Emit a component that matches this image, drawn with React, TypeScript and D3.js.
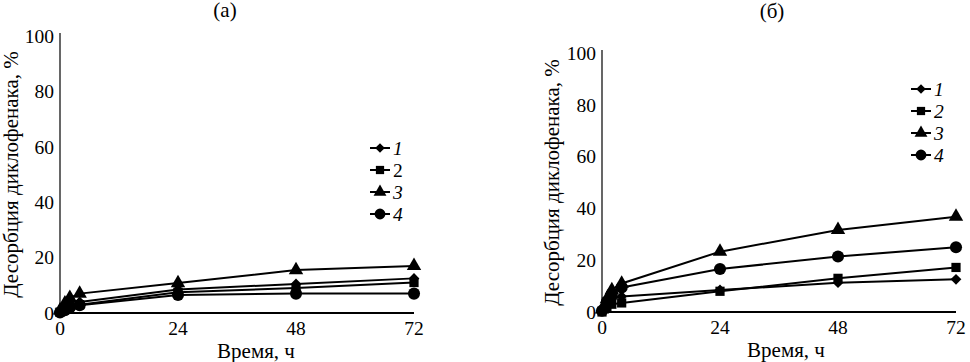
import React from "react";
import * as d3 from "d3";

const times = [0, 1, 2, 4, 24, 48, 72];
const xTicks = [0, 24, 48, 72];
const yTicks = [0, 20, 40, 60, 80, 100];
const seriesNames = ["1", "2", "3", "4"];

// panel (a)
const a1 = [0.5, 2, 3, 4, 8.5, 10.5, 12.5];
const a2 = [0.3, 1.5, 2.5, 3, 7.5, 9, 11];
const a3 = [1, 3.5, 5.5, 7, 10.8, 15.5, 17];
const a4 = [0.2, 1, 2, 2.8, 6.5, 7, 7];

// panel (б)
const b1 = [0.5, 3, 5, 6, 8.5, 11.3, 12.6];
const b2 = [0, 1.5, 3, 3.5, 8, 13, 17.2];
const b3 = [1, 5, 8.5, 11, 23.3, 31.7, 36.8];
const b4 = [0.5, 4, 7, 9.5, 16.6, 21.4, 25];

const FONT = "'Times New Roman', 'Liberation Serif', Tinos, FreeSerif, serif";

const diamondType = {
  draw(ctx: any, size: number) {
    const r = (Math.sqrt(size) / 2) * 1.2;
    ctx.moveTo(0, -r);
    ctx.lineTo(r, 0);
    ctx.lineTo(0, r);
    ctx.lineTo(-r, 0);
    ctx.closePath();
  },
};

const markerTypes: any[] = [diamondType, d3.symbolSquare, d3.symbolTriangle, d3.symbolCircle];
const markerSizes = [80, 85, 90, 115];

type PanelProps = {
  title: string;
  titleX: number;
  titleY: number;
  x0: number;
  x1: number;
  yTop: number;
  yBottom: number;
  data: number[][];
  legendX: number;
  legendY: number;
  labelItalic: boolean[];
  yTitleX: number;
  xTitleX: number;
};

function T(props: any) {
  const { size, italic, children, ...rest } = props;
  return (
    <text
      {...rest}
      fontFamily={FONT}
      fontSize={size}
      fontStyle={italic ? "italic" : "normal"}
      style={{ fontFamily: FONT, fontSize: size, fontStyle: italic ? "italic" : "normal" }}
    >
      {children}
    </text>
  );
}

function Panel(p: PanelProps) {
  const x = d3.scaleLinear().domain([0, 72]).range([p.x0, p.x1]);
  const y = d3.scaleLinear().domain([0, 100]).range([p.yBottom, p.yTop]);
  const line = d3
    .line<number>()
    .x((_, i) => x(times[i]))
    .y((v) => y(v))
    .curve(d3.curveLinear);
  const yMid = (p.yTop + p.yBottom) / 2;
  return (
    <g>
      <T x={p.titleX} y={p.titleY} textAnchor="middle" size={21}>
        {p.title}
      </T>
      <line x1={p.x0} x2={p.x0} y1={p.yTop - 3} y2={p.yBottom} stroke="#000" strokeWidth={1.2} />
      {yTicks.map((t) => (
        <T key={t} x={p.x0 - 6} y={y(t)} dy="0.35em" textAnchor="end" size={19.5}>
          {t}
        </T>
      ))}
      {xTicks.map((t) => (
        <T key={t} x={x(t)} y={p.yBottom + 15} dy="0.35em" textAnchor="middle" size={19.5}>
          {t}
        </T>
      ))}
      <T
        transform={`translate(${p.yTitleX},${yMid}) rotate(-90)`}
        textAnchor="middle"
        dy="0.35em"
        size={21}
      >
        Десорбция диклофенака, %
      </T>
      <T x={p.xTitleX} y={p.yBottom + 38} dy="0.35em" textAnchor="middle" size={21}>
        Время, ч
      </T>
      {p.data.map((s, si) => (
        <g key={si}>
          <path d={line(s) || ""} fill="none" stroke="#000" strokeWidth={2} />
          {s.map((v, i) => (
            <path
              key={i}
              transform={`translate(${x(times[i])},${y(v)})`}
              d={d3.symbol().type(markerTypes[si]).size(markerSizes[si])() || ""}
              fill="#000"
            />
          ))}
        </g>
      ))}
      <line x1={p.x0} x2={p.x1} y1={p.yBottom} y2={p.yBottom} stroke="#000" strokeWidth={2} />
      {seriesNames.map((n, i) => {
        const ly = p.legendY + i * 22;
        return (
          <g key={n}>
            <line x1={p.legendX - 10} x2={p.legendX + 10} y1={ly} y2={ly} stroke="#000" strokeWidth={2} />
            <path
              transform={`translate(${p.legendX},${ly})`}
              d={d3.symbol().type(markerTypes[i]).size(markerSizes[i] * 0.8)() || ""}
              fill="#000"
            />
            <T x={p.legendX + 13} y={ly} dy="0.35em" size={19.5} italic={p.labelItalic[i]}>
              {n}
            </T>
          </g>
        );
      })}
    </g>
  );
}

export default function App() {
  return (
    <svg
      width={970}
      height={362}
      fontFamily={FONT}
      style={{ position: "absolute", left: 0, top: 0, background: "#fff", fontFamily: FONT }}
    >
      <rect width={970} height={362} fill="#fff" />
      <Panel
        title="(a)"
        titleX={225}
        titleY={17}
        x0={60}
        x1={414}
        yTop={36}
        yBottom={313}
        data={[a1, a2, a3, a4]}
        legendX={380}
        legendY={148}
        labelItalic={[true, false, true, true]}
        yTitleX={11}
        xTitleX={256}
      />
      <Panel
        title="(б)"
        titleX={772}
        titleY={18}
        x0={602}
        x1={956}
        yTop={53}
        yBottom={312}
        data={[b1, b2, b3, b4]}
        legendX={921}
        legendY={89}
        labelItalic={[true, true, true, true]}
        yTitleX={552}
        xTitleX={786}
      />
    </svg>
  );
}
